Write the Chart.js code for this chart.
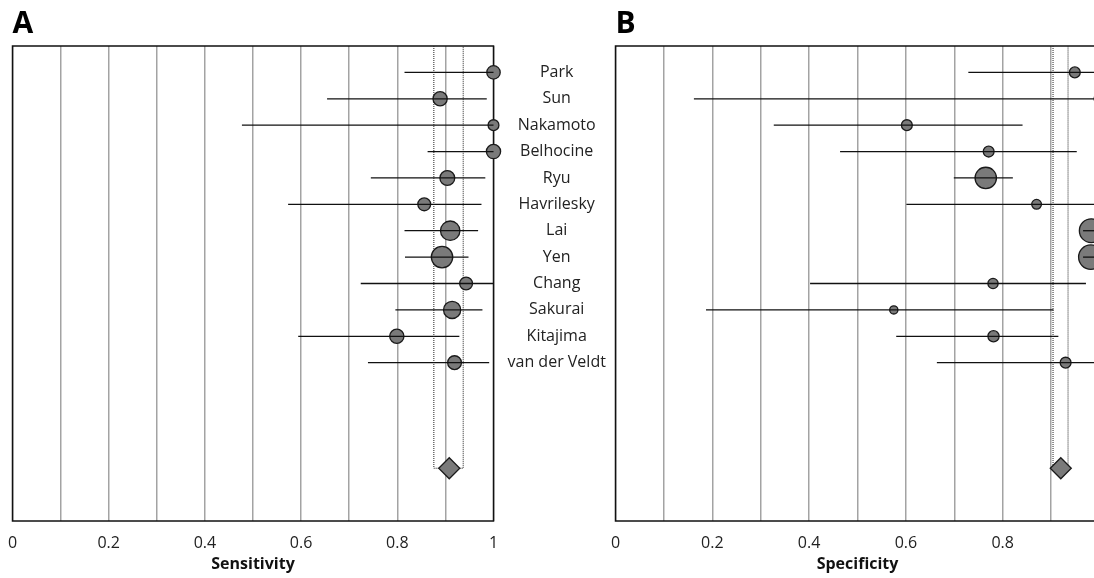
<!DOCTYPE html>
<html lang="en">
<head>
<meta charset="UTF-8">
<title>Forest plots: sensitivity and specificity</title>
<script src="https://cdn.jsdelivr.net/npm/chart.js@4.4.1/dist/chart.umd.min.js"></script>
<style>
  html, body { margin: 0; padding: 0; background: #fff; overflow: hidden; }
  #wrap { position: relative; width: 1094px; height: 578px; overflow: hidden; }
  #chartA { position: absolute; left: 0; top: 0; }
  #chartB { position: absolute; left: 590px; top: 0; }
</style>
</head>
<body>
<div id="wrap">
  <canvas id="chartA" width="615" height="578"></canvas>
  <canvas id="chartB" width="540" height="578"></canvas>
</div>
<script>
// study names, top to bottom
const studies = ['Park', 'Sun', 'Nakamoto', 'Belhocine', 'Ryu', 'Havrilesky',
  'Lai', 'Yen', 'Chang', 'Sakurai', 'Kitajima', 'van der Veldt'];

// sensitivity: estimate, 95% CI
const sens   = [1.0, 0.889, 1.0, 1.0, 0.904, 0.856, 0.910, 0.893, 0.943, 0.914, 0.799, 0.919];
const sensLo = [0.815, 0.654, 0.477, 0.863, 0.745, 0.573, 0.815, 0.816, 0.724, 0.796, 0.594, 0.739];
const sensHi = [1.0, 0.986, 1.0, 1.0, 0.983, 0.975, 0.968, 0.948, 1.0, 0.977, 0.929, 0.991];
const sensWeight = [7.2, 8.1, 4.7, 8.1, 8.8, 6.6, 15.1, 18.3, 6.6, 11.8, 8.1, 7.6];
const sensPooled = [0.908, 0.876, 0.937]; // estimate, lo, hi

// specificity: estimate, 95% CI
const spec   = [0.949, 1.0, 0.602, 0.771, 0.765, 0.870, 0.983, 0.982, 0.780, 0.575, 0.781, 0.930];
const specLo = [0.729, 0.162, 0.327, 0.464, 0.699, 0.601, 0.966, 0.966, 0.402, 0.187, 0.580, 0.664];
const specHi = [1.0, 1.0, 0.841, 0.953, 0.821, 1.0, 1.0, 1.0, 0.972, 0.905, 0.915, 1.0];
const specWeight = [4.7, 4.7, 4.7, 4.7, 18.3, 3.8, 22.7, 23.8, 4.2, 2.7, 5.0, 4.7];
const specPooled = [0.920, 0.904, 0.935];

const POOLED_ROW = 15;
const FONT = "'Open Sans', sans-serif";

Chart.defaults.font.family = FONT;

// box around the plot area
const frame = {
  id: 'frame',
  beforeDatasetsDraw(chart) {
    const a = chart.chartArea;
    const ctx = chart.ctx;
    ctx.save();
    ctx.strokeStyle = '#111';
    ctx.lineWidth = 1.5;
    ctx.strokeRect(a.left, a.top, a.right - a.left, a.bottom - a.top);
    ctx.restore();
  }
};

function forest(id, letter, axisTitle, est, lo, hi, weight, pooled, showNames, pad) {
  // datasets earlier in the list are drawn on top
  const ciLines = studies.map((s, i) => ({
    type: 'line',
    data: [{x: lo[i], y: i}, {x: hi[i], y: i}],
    borderColor: '#111',
    borderWidth: 1.3,
    pointRadius: 0,
    showLine: true,
    clip: false
  }));

  const points = {
    type: 'scatter',
    data: est.map((v, i) => ({x: v, y: i})),
    pointRadius: weight.map(w => 2.5 * Math.sqrt(w)),
    backgroundColor: '#7a7a7a',
    borderColor: '#1a1a1a',
    borderWidth: 1.3,
    clip: false
  };

  const diamond = {
    type: 'scatter',
    data: [{x: pooled[0], y: POOLED_ROW}],
    pointStyle: 'rectRot',
    pointRadius: 10.5,
    backgroundColor: '#7a7a7a',
    borderColor: '#1a1a1a',
    borderWidth: 1.3,
    clip: false
  };

  const pooledCI = {
    type: 'line',
    data: [
      {x: pooled[1], y: -1}, {x: pooled[1], y: POOLED_ROW},
      {x: pooled[2], y: POOLED_ROW}, {x: pooled[2], y: -1}
    ],
    borderColor: '#222',
    borderWidth: 1,
    borderDash: [1, 1],
    pointRadius: 0,
    showLine: true
  };

  return new Chart(document.getElementById(id).getContext('2d'), {
    type: 'scatter',
    data: { datasets: [...ciLines, points, diamond, pooledCI] },
    options: {
      responsive: false,
      animation: false,
      layout: { padding: pad },
      plugins: {
        legend: { display: false },
        tooltip: { enabled: false },
        title: {
          display: true,
          text: letter,
          align: 'start',
          color: '#000',
          font: { family: FONT, size: 30, weight: 'bold' },
          padding: { top: 6.8, bottom: 3.2 }
        }
      },
      scales: {
        x: {
          type: 'linear',
          min: 0,
          max: 1,
          border: { display: false },
          grid: { color: '#a3a3a3', lineWidth: 1.5, drawTicks: false },
          afterFit: ax => {
            ax.height = 53;
            ax.paddingLeft = 0;
            ax.paddingRight = 0;
          },
          ticks: {
            stepSize: 0.1,
            autoSkip: false,
            maxRotation: 0,
            padding: 13,
            color: '#222',
            font: { family: FONT, size: 16 },
            callback: (v, i) => i % 2 === 0 ? String(Math.round(v * 10) / 10) : ''
          },
          title: {
            display: true,
            text: axisTitle,
            color: '#111',
            font: { family: FONT, size: 16, weight: 'bold' },
            padding: { top: 4, bottom: 0 }
          }
        },
        y: {
          type: 'linear',
          reverse: true,
          min: -1,
          max: 17,
          position: 'right',
          display: showNames,
          border: { display: false },
          grid: { display: false, drawTicks: false },
          afterBuildTicks: ax => { ax.ticks = studies.map((s, i) => ({ value: i })); },
          afterFit: ax => { if (showNames) ax.width = 121.5; },
          ticks: {
            padding: 14,
            crossAlign: 'center',
            color: '#222',
            font: { family: FONT, size: 16 },
            callback: v => studies[v]
          }
        }
      }
    },
    plugins: [frame]
  });
}

forest('chartA', 'A', 'Sensitivity', sens, sensLo, sensHi, sensWeight, sensPooled, true,
  { left: 12.5, right: 0, top: 0, bottom: 4 });
forest('chartB', 'B', 'Specificity', spec, specLo, specHi, specWeight, specPooled, false,
  { left: 25.5, right: 30.5, top: 0, bottom: 4 });
</script>
</body>
</html>
